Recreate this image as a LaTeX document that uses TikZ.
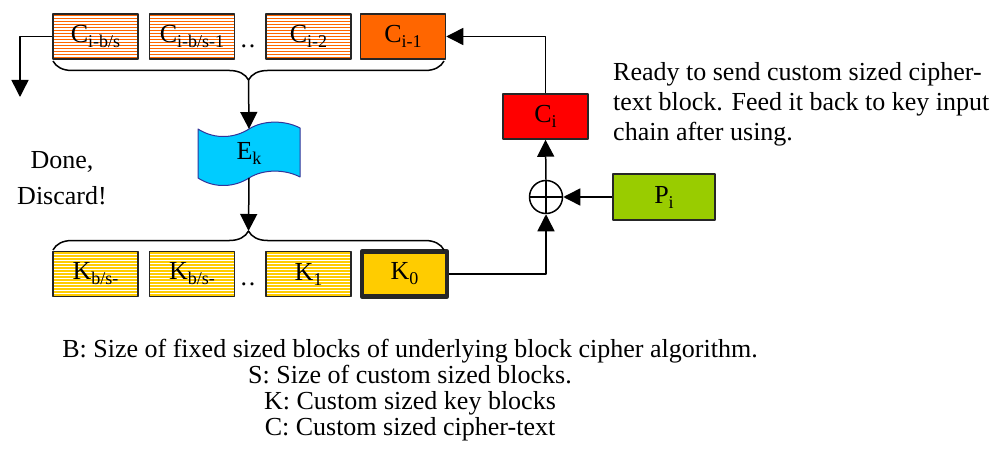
\documentclass[tikz,border=0pt]{standalone}
\usepackage{fontspec}
\setmainfont{Liberation Serif}
\usetikzlibrary{arrows.meta,decorations.pathreplacing,positioning}
\definecolor{cblock}{RGB}{255,102,0}
\definecolor{kblock}{RGB}{255,204,0}
\definecolor{cired}{RGB}{255,0,0}
\definecolor{pigreen}{RGB}{153,204,0}
\definecolor{ekcyan}{RGB}{0,204,255}
\definecolor{ekline}{RGB}{51,51,153}
\newcommand\idx[1]{\raisebox{-5pt}{\fontsize{18}{18}\selectfont #1}}
\begin{document}
\begin{tikzpicture}[x=1pt, y=-1pt, line join=round, >={Triangle[length=17pt,width=17pt]},
  font=\fontsize{26}{30}\selectfont,
  blk/.style={draw=black!85, line width=1.5pt, minimum width=85pt, minimum height=45pt, inner sep=0pt},
  stripes/.style={blk, fill=white, path picture={\foreach \s in {1.5,4.5,...,48}
    \draw[#1, line width=1.5pt] ([yshift=-\s pt]path picture bounding box.north west) -- ([yshift=-\s pt]path picture bounding box.north east);}},
  wire/.style={line width=1.5pt},
  brc/.style={line width=1.5pt, decorate, decoration={brace, amplitude=19pt}}]
  \useasboundingbox (0,0) rectangle (1006,457);
  % cipher-text chain
  \node[stripes=cblock] (c1) at (95.5,36.5) {C\idx{i-b/s}};
  \node[stripes=cblock, right=10pt of c1] (c2) {C\idx{i-b/s-1}};
  \node[stripes=cblock] (c3) at (308.5,36.5) {C\idx{i-2}};
  \node[blk, fill=cblock, right=8pt of c3] (c4) {C\idx{i-1}};
  \node[anchor=base] (cdots) at (248,48) {.\kern2pt.};
  \draw[brc] (444,61) -- (53,61);
  \coordinate (ctip) at (248.5,80);
  \coordinate (discard) at (20,97);
  % block cipher
  \path[fill=ekcyan, draw=ekline, line width=1pt] (198,129) .. controls (215,140) and (235,138) .. (249,129)
    .. controls (263,120) and (285,120) .. (300,128) -- (300,177) .. controls (285,169) and (263,169) .. (249,178)
    .. controls (235,187) and (215,189) .. (198,178) -- cycle;
  \node (ek) at (249,153) {E\idx{k}};
  \coordinate (ektop) at (249,129);
  \coordinate (ekbot) at (249,178);
  % key chain
  \node[stripes=kblock] (k1) at (95.5,274) {K\idx{b/s-}};
  \node[stripes=kblock, right=10pt of k1] (k2) {K\idx{b/s-}};
  \node[stripes=kblock] (k3) at (308.5,274) {K\idx{1}};
  \node[blk, fill=kblock, line width=4.5pt, right=8pt of k3] (k0) {K\idx{0}};
  \node[anchor=base] (kdots) at (248,285) {.\kern2pt.};
  \draw[brc] (53,250) -- (444,250);
  \coordinate (ktip) at (248.5,231);
  % xor stage
  \node[circle, draw, line width=1.5pt, minimum size=33pt, inner sep=0pt,
    path picture={\draw[line width=1.5pt] (path picture bounding box.north) -- (path picture bounding box.south)
      (path picture bounding box.west) -- (path picture bounding box.east);}] (xor) at (546,197) {};
  \node[blk, fill=cired] (ci) at (545.5,116.5) {C\idx{i}};
  \node[blk, fill=pigreen, minimum width=102pt, minimum height=46pt] (pi) at (664,197) {P\idx{i}};
  % connectors
  \draw[wire,->] (ctip) -- (ektop);
  \draw[wire,->] (ekbot) -- (ktip);
  \draw[wire,->] (c1.west) -| (discard);
  \draw[wire,->] (k0.east) -| (xor.south);
  \draw[wire,->] (pi.west) -- (xor.east);
  \draw[wire,->] (xor.north) -- (ci.south);
  \draw[wire,->] (ci.north) |- (c4.east);
  % texts
  \node[anchor=north west, align=left, inner sep=0pt] (note) at (613,62)
    {Ready to send custom sized cipher-\\text block. Feed it back to key input\\chain after using.};
  \node[anchor=north, align=center, inner sep=0pt, font=\fontsize{26}{36}\selectfont] (done) at (62,151) {Done,\\Discard!};
  \node[anchor=north, align=center, inner sep=0pt, font=\fontsize{26}{26}\selectfont] (legend) at (410,339)
    {B: Size of fixed sized blocks of underlying block cipher algorithm.\\S: Size of custom sized blocks.\\K: Custom sized key blocks\\C: Custom sized cipher-text};
\end{tikzpicture}
\end{document}
